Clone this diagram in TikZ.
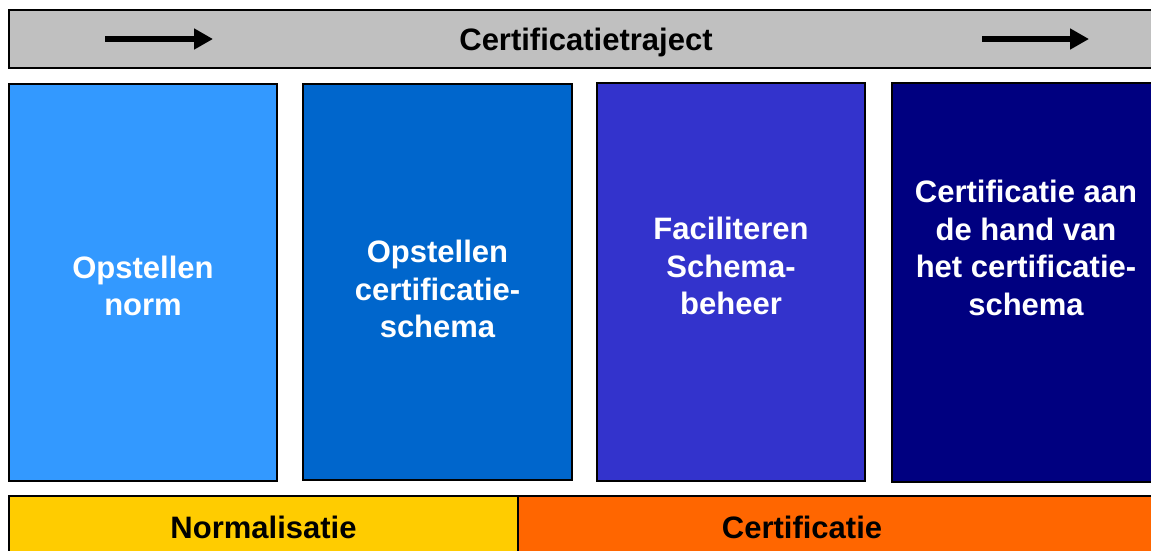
\documentclass[tikz,border=0pt]{standalone}
\usepackage{fontspec}
\setmainfont{Liberation Sans}
\usetikzlibrary{arrows.meta}

\definecolor{barGrey}{HTML}{C0C0C0}
\definecolor{stepOne}{HTML}{3399FF}
\definecolor{stepTwo}{HTML}{0066CC}
\definecolor{stepThree}{HTML}{3333CC}
\definecolor{stepFour}{HTML}{000080}
\definecolor{normYellow}{HTML}{FFCC00}
\definecolor{certOrange}{HTML}{FF6600}

\tikzset{
	phase/.style={draw=black,line width=2pt,minimum width=268pt,minimum height=397pt,inner sep=0pt},
	bar/.style={draw=black,line width=2pt,minimum height=58pt,inner sep=0pt},
	phasetext/.style={text=white,align=center,font=\fontsize{31}{37.5}\selectfont\bfseries},
	bartext/.style={text=black,font=\fontsize{31}{37.5}\selectfont\bfseries},
	flow/.style={-{Triangle[length=19pt,width=20pt]},line width=6.5pt}
}

\begin{document}
\begin{tikzpicture}[x=1pt,y=-1pt]
			\useasboundingbox (0,0) rectangle (1151,550);
			\clip (0,0) rectangle (1151,550);
			% top bar
			\node[bar,fill=barGrey,minimum width=1151pt] (traject) at (584.5,39){};
			\node[bartext] (trajectlabel) at (586,42){Certificatietraject};
			\coordinate (a1) at (105,39);
			\coordinate (a2) at (213,39);
			\coordinate (b1) at (982,39);
			\coordinate (b2) at (1089,39);
			\draw[flow] (a1) -- (a2);
			\draw[flow] (b1) -- (b2);
			% phases
			\node[phase,fill=stepOne] (p1) at (143,282.5){};
			\node[phase,fill=stepTwo,minimum width=269pt,minimum height=396pt] (p2) at (437.5,282){};
			\node[phase,fill=stepThree,minimum height=398pt] (p3) at (731,282){};
			\node[phase,fill=stepFour,minimum height=399pt] (p4) at (1026,282.5){};
			\node[phasetext] (t1) at (143,286){Opstellen\\norm};
			\node[phasetext] (t2) at (437.5,289){Opstellen\\certificatie-\\schema};
			\node[phasetext] (t3) at (731,266){Faciliteren\\Schema-\\beheer};
			\node[phasetext] (t4) at (1026,248){Certificatie aan\\de hand van\\het certificatie-\\schema};
			% bottom bar
			\node[bar,fill=normYellow,minimum width=509pt] (norm) at (263.5,525){};
			\node[bar,fill=certOrange,minimum width=642pt] (cert) at (839,525){};
			\node[bartext] (normlabel) at (263.5,527){Normalisatie};
			\node[bartext] (certlabel) at (802,527){Certificatie};
		\end{tikzpicture}
\end{document}
